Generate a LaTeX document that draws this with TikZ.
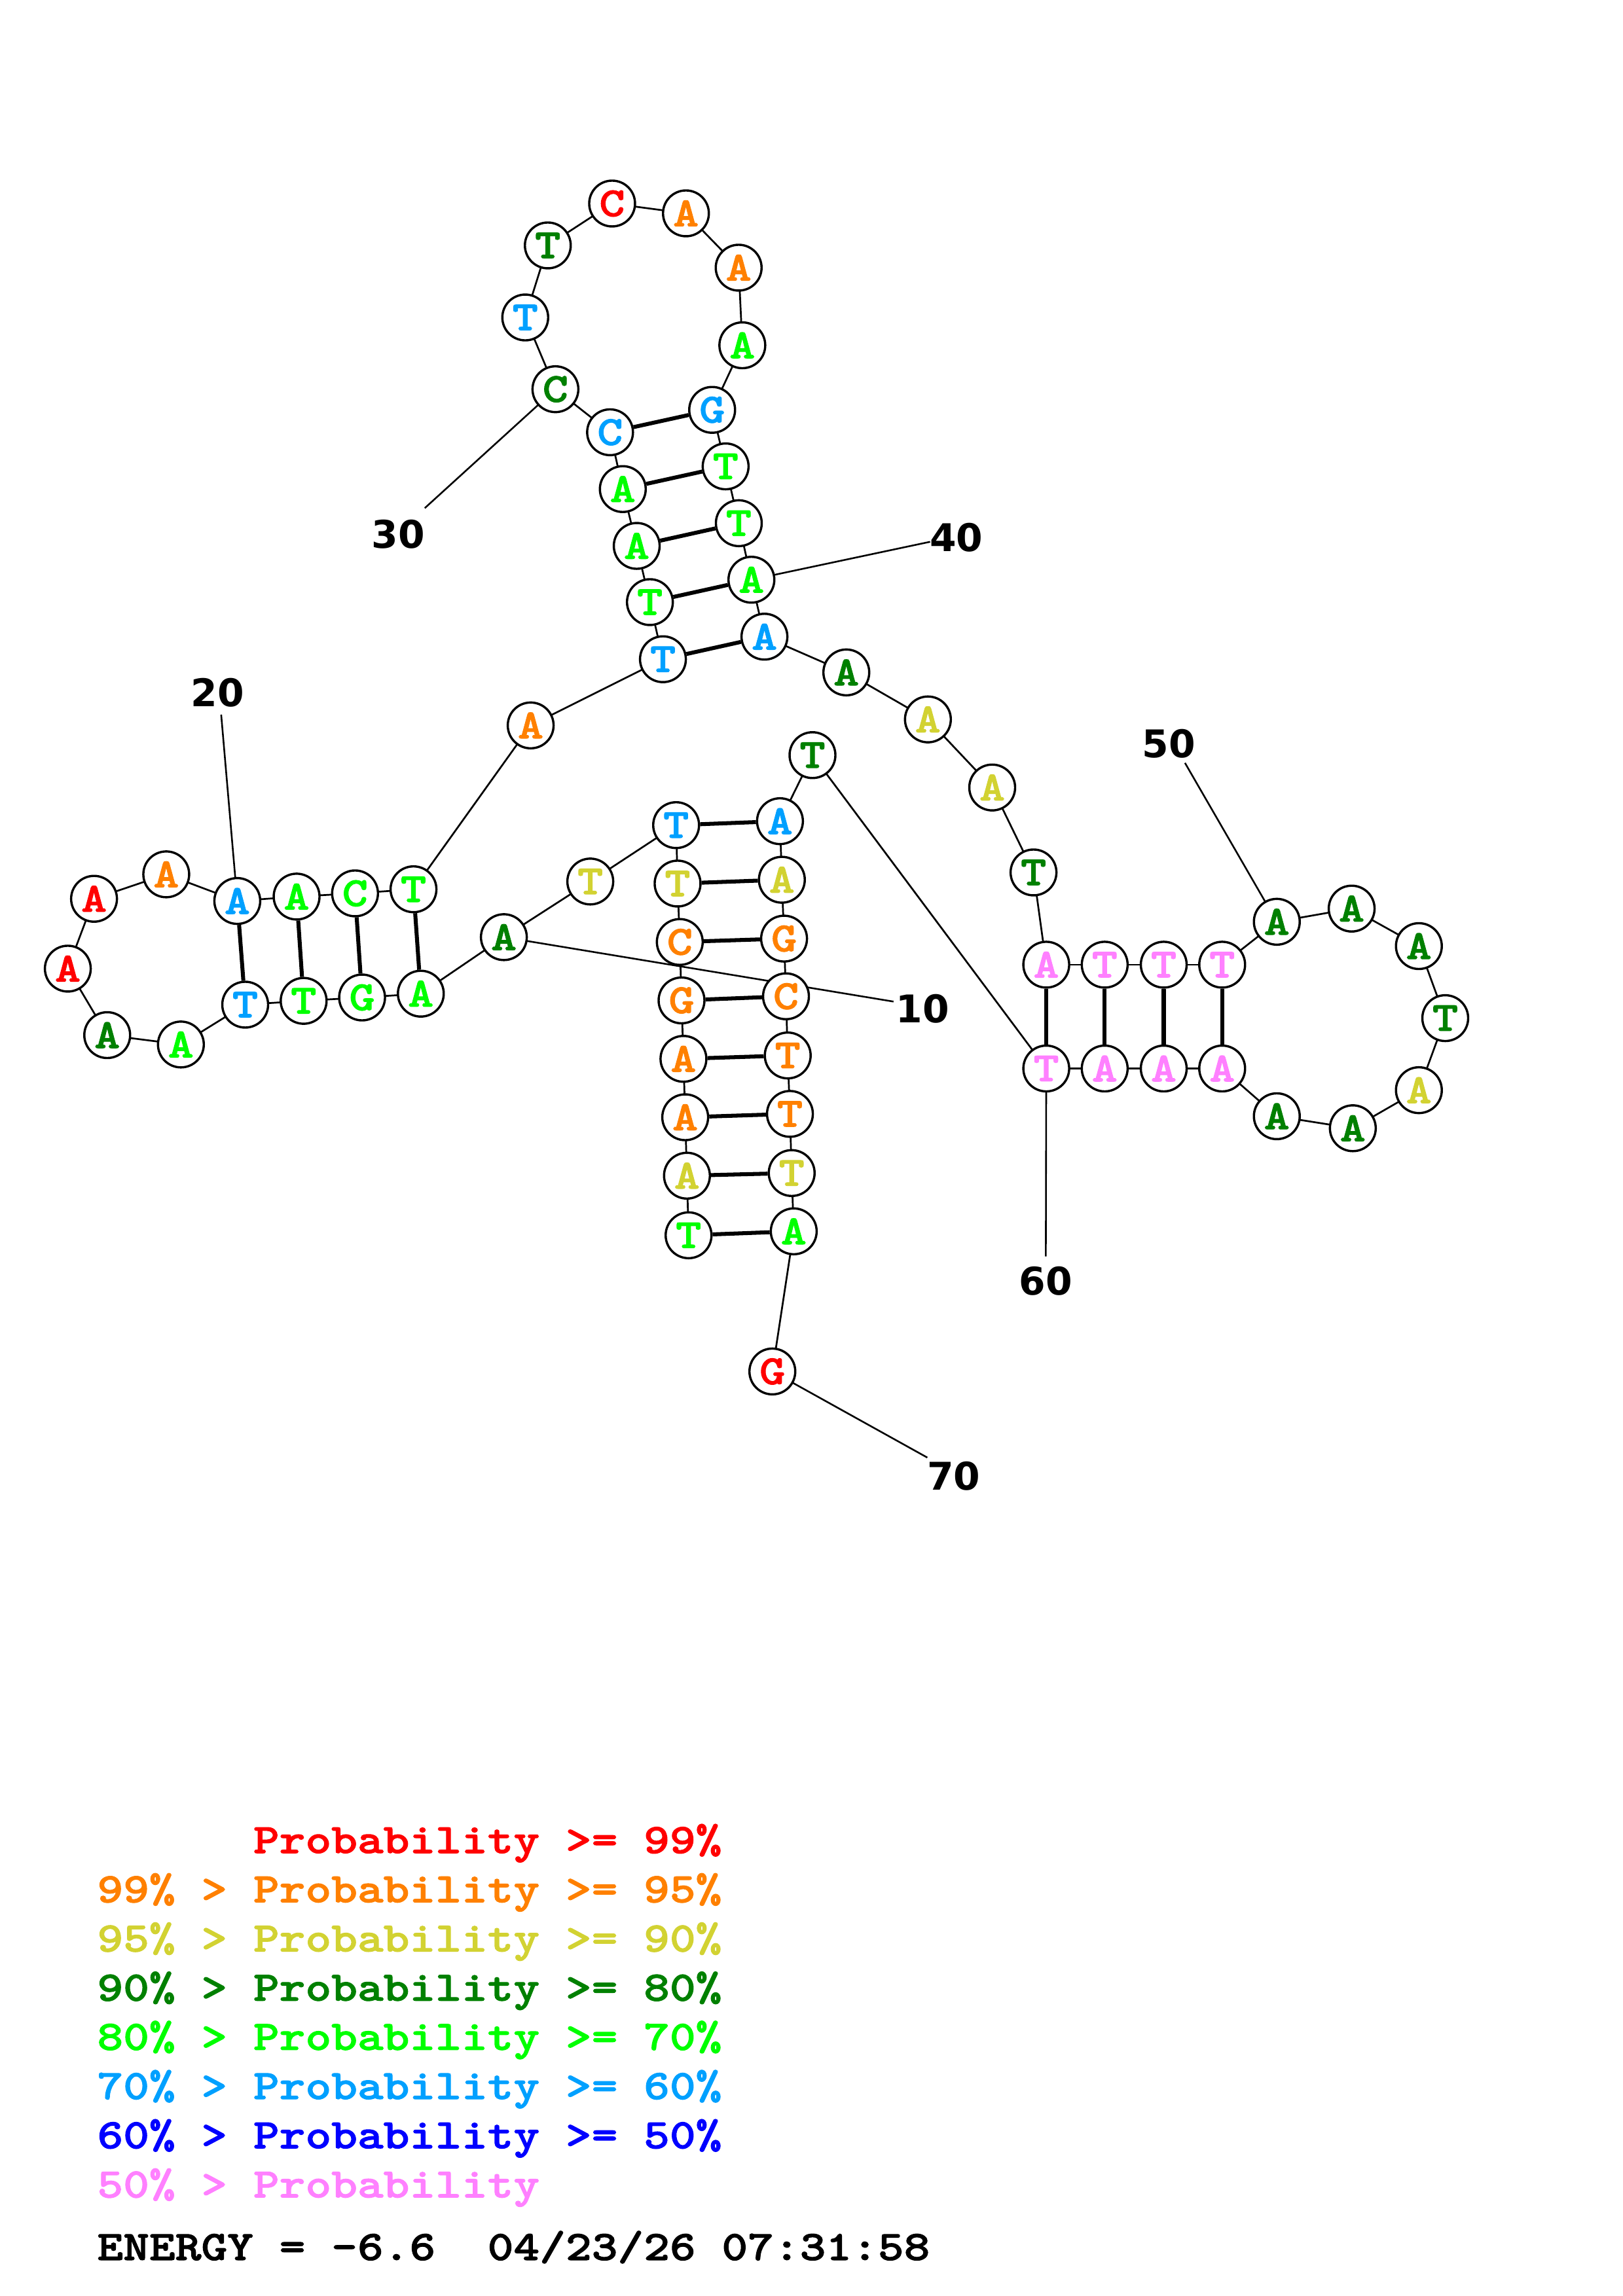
\documentclass[tikz,border=0pt]{standalone}
\usepackage{fontspec}
\newfontfamily\labfam{DejaVu Sans}
\newfontfamily\courb{lmmonolt10-bold}[Extension=.otf, FakeStretch=1.18, FakeBold=1.6]
\pgfdeclarelayer{bg}
\pgfsetlayers{bg,main}
\definecolor{cred}{RGB}{255,0,0}
\definecolor{corange}{RGB}{255,128,0}
\definecolor{cyellow}{RGB}{210,210,50}
\definecolor{cdkgreen}{RGB}{0,128,0}
\definecolor{cgreen}{RGB}{0,255,0}
\definecolor{csky}{RGB}{0,160,255}
\definecolor{cblue}{RGB}{0,0,255}
\definecolor{cpink}{RGB}{255,128,255}
\tikzset{
  nt/.style={circle, draw=black, line width=0.82pt, fill=white, minimum size=16.8pt, inner sep=0pt, font=\courb\fontsize{15.2}{15.2}\selectfont},
  backbone/.style={line width=0.65pt},
  pairbond/.style={line width=1.45pt},
  labline/.style={line width=0.62pt},
  numlab/.style={inner sep=0pt, font=\labfam\bfseries\fontsize{14}{14}\selectfont},
  legend/.style={anchor=base west, inner sep=0pt, font=\courb\fontsize{15.4}{15.4}\selectfont}
}
\begin{document}
\begin{tikzpicture}[x=0.53698pt,y=-0.53698pt]
\useasboundingbox (0,0) rectangle (1108,1568);
\foreach \i/\x/\y/\b/\c in {
1/470.1/843.6/T/cgreen, 2/469.0/802.9/A/cyellow, 3/467.8/763.0/A/corange, 4/466.6/723.1/A/corange,
5/465.3/683.2/G/corange, 6/464.1/643.3/C/corange, 7/462.6/603.4/T/cyellow, 8/461.6/563.5/T/csky,
9/403/602/T/cyellow, 10/344/640/A/cdkgreen, 11/287.3/678.6/A/cgreen, 12/247.2/681.2/G/cgreen,
13/207.3/683.5/T/cgreen, 14/167.4/686.1/T/csky, 15/123.5/713.3/A/cgreen, 16/73.2/706.9/A/cdkgreen,
17/46.3/661.5/A/cred, 18/64.2/613.8/A/cred, 19/113.5/597.1/A/corange, 20/162.0/615.3/A/csky,
21/202.5/612.3/A/cgreen, 22/242.4/610.1/C/cgreen, 23/282.3/607.3/T/cgreen, 24/362.3/495.4/A/corange,
25/452.6/450.2/T/csky, 26/443.7/411.2/T/cgreen, 27/434.7/372.8/A/cgreen, 28/425.2/334.0/A/cgreen,
29/416.5/295.2/C/csky, 30/379.2/265.8/C/cdkgreen, 31/358.6/216.8/T/csky, 32/374.0/167.6/T/cdkgreen,
33/417.9/139.0/C/cred, 34/468.3/145.7/A/corange, 35/504.3/182.8/A/corange, 36/506.8/235.8/A/cgreen,
37/486.2/279.9/G/csky, 38/495.4/318.5/T/cgreen, 39/504.4/357.3/T/cgreen, 40/513.0/395.9/A/cgreen,
41/521.9/434.8/A/csky, 42/577.8/459.2/A/cdkgreen, 43/633.5/491.3/A/cyellow, 44/677.4/537.8/A/cyellow,
45/705.6/595.8/T/cdkgreen, 46/714.3/658.8/A/cpink, 47/754.2/658.8/T/cpink, 48/794.5/658.8/T/cpink,
49/834.4/658.8/T/cpink, 50/871.7/629.5/A/cdkgreen, 51/922.8/620.5/A/cdkgreen, 52/968.7/646.1/A/cdkgreen,
53/986.7/695.3/T/cdkgreen, 54/968.7/744.5/A/cyellow, 55/923.6/770.5/A/cdkgreen, 56/871.7/762.3/A/cdkgreen,
57/834.4/729.7/A/cpink, 58/794.5/729.7/A/cpink, 59/754.2/729.7/A/cpink, 60/714.3/729.7/T/cpink,
61/554.7/515.7/T/cdkgreen, 62/532.5/560.8/A/csky, 63/533.8/600.8/A/cyellow, 64/535.3/641.0/G/corange,
65/536.6/680.4/C/corange, 66/537.8/720.8/T/corange, 67/539.3/760.7/T/corange, 68/540.5/801.1/T/cyellow,
69/541.9/840.9/A/cgreen, 70/527.3/936.6/G/cred}
  \node[nt, text=\c] (n\i) at (\x,\y) {\b};
% label end points and labels
\coordinate (e10) at (610,684);   \node[numlab] (t10) at (630,689) {10};
\coordinate (e20) at (151,488);   \node[numlab] (t20) at (148.5,473) {20};
\coordinate (e30) at (290,347);   \node[numlab] (t30) at (272,365) {30};
\coordinate (e40) at (635,370);   \node[numlab] (t40) at (653,367) {40};
\coordinate (e50) at (809,521);   \node[numlab] (t50) at (798,508) {50};
\coordinate (e60) at (714,858);   \node[numlab] (t60) at (714,875) {60};
\coordinate (e70) at (633.1,995.4); \node[numlab] (t70) at (651.1,1007.9) {70};
\begin{pgfonlayer}{bg}
  \foreach \i in {1,...,69} {
    \pgfmathtruncatemacro{\j}{\i+1}
    \draw[backbone] (n\i.center) -- (n\j.center);
  }
  \foreach \a/\b in {1/69,2/68,3/67,4/66,5/65,6/64,7/63,8/62,11/23,12/22,13/21,14/20,25/41,26/40,27/39,28/38,29/37,46/60,47/59,48/58,49/57}
    \draw[pairbond] (n\a) -- (n\b);
  \foreach \k in {10,20,30,40,50,60,70}
    \draw[labline] (n\k.center) -- (e\k);
\end{pgfonlayer}
% legend
\node[legend, text=cred] (g1) at (66,1265.5) {\phantom{99\% > }Probability >= 99\%};
\node[legend, text=corange] (g2) at (66,1299.1) {99\% > Probability >= 95\%};
\node[legend, text=cyellow] (g3) at (66,1332.7) {95\% > Probability >= 90\%};
\node[legend, text=cdkgreen] (g4) at (66,1366.3) {90\% > Probability >= 80\%};
\node[legend, text=cgreen] (g5) at (66,1399.9) {80\% > Probability >= 70\%};
\node[legend, text=csky] (g6) at (66,1433.5) {70\% > Probability >= 60\%};
\node[legend, text=cblue] (g7) at (66,1467.1) {60\% > Probability >= 50\%};
\node[legend, text=cpink] (g8) at (66,1500.7) {50\% > Probability};
\node[legend, text=black] (en) at (66,1543.4) {ENERGY = -6.6\ \ 04/23/26 07:31:58};
\end{tikzpicture}
\end{document}
